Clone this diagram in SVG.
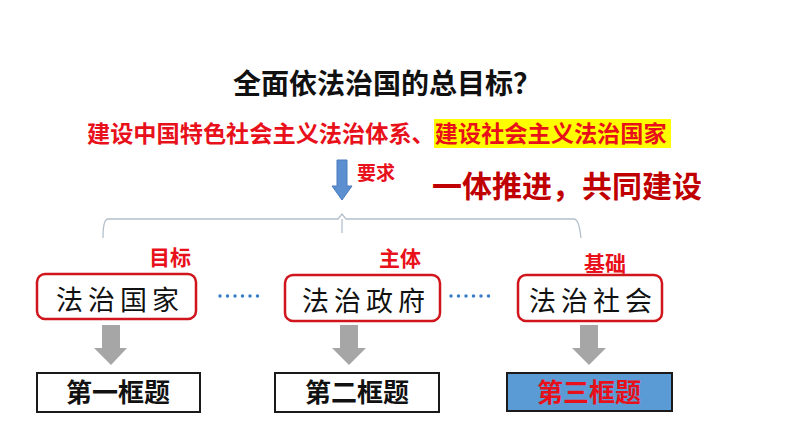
<svg xmlns="http://www.w3.org/2000/svg" width="794" height="447" viewBox="0 0 794 447">
<style>
.sans{font-family:"Noto Sans CJK SC","Liberation Sans",sans-serif;font-weight:bold}
.red{fill:#e8101a}
.lbl{font-size:21px}
.rbox{fill:#fff;stroke:#d0161c;stroke-width:2.5}
.box{fill:#fff;stroke:#1a1a1a;stroke-width:2}
.mid{font-family:"Noto Sans CJK SC",sans-serif;font-size:27px;fill:#111;letter-spacing:5px}
.btxt{font-size:26px}
.garrow{fill:#a6a6a6}
.dots{stroke:#3a7cc8;stroke-width:3.5;stroke-linecap:round;stroke-dasharray:0 7.5}
</style>
<rect width="794" height="447" fill="#fff"/>
<g id="title">
<text class="sans" x="387" y="94" font-size="28" text-anchor="middle" fill="#111">全面依法治国的总目标？</text>
</g>
<g id="goal">
<rect x="434" y="119" width="237" height="29" fill="#ffff00"/>
<text class="sans red" x="87" y="142" font-size="23.2">建设中国特色社会主义法治体系、<tspan>建设社会主义法治国家</tspan></text>
</g>
<g id="req-arrow">
<path d="M337,160 H347 V186 H352 L342,200 L332,186 H337 Z" fill="#5b8fd0" stroke="#4a7cc0" stroke-width="1"/>
<text class="sans red" x="357" y="180" font-size="19">要求</text>
</g>
<g id="slogan">
<text class="sans" x="432" y="197" font-size="30" fill="#c00000">一体推进，共同建设</text>
</g>
<g id="connectors" fill="none">
<path d="M103,238 Q103,219 108,219 H338 L342,214 L346,219 H574 Q579,219 581,238" stroke="#b3c0cc" stroke-width="1.3"/>
<path d="M342,219 V233" stroke="#b3c0cc" stroke-width="1.3"/>
<path class="dots" d="M220,296 H258"/>
<path class="dots" d="M451,296 H489"/>
<path class="garrow" d="M102,325 H120 V348 H127 L111,365 L94,348 H102 Z"/>
<path class="garrow" d="M340,325 H358 V348 H366 L349,365 L332,348 H340 Z"/>
<path class="garrow" d="M580,325 H598 V348 H606 L589,365 L572,348 H580 Z"/>
</g>
<g id="n1">
<text class="sans red lbl" x="170" y="265" text-anchor="middle">目标</text>
<rect class="rbox" x="37" y="274" width="159" height="45" rx="8"/>
<text class="mid" x="120" y="310" text-anchor="middle">法治国家</text>
</g>
<g id="n2">
<text class="sans red lbl" x="400" y="266" text-anchor="middle">主体</text>
<rect class="rbox" x="285" y="275" width="155" height="46" rx="8"/>
<text class="mid" x="366" y="311" text-anchor="middle">法治政府</text>
</g>
<g id="n3">
<text class="sans red lbl" x="605" y="271" text-anchor="middle">基础</text>
<rect class="rbox" x="518" y="275" width="144" height="46" rx="8"/>
<text class="mid" x="593" y="311" text-anchor="middle">法治社会</text>
</g>
<g id="b1">
<rect class="box" x="37" y="373" width="163" height="39"/>
<text class="sans btxt" x="118" y="402" text-anchor="middle" fill="#111">第一框题</text>
</g>
<g id="b2">
<rect class="box" x="275" y="373" width="164" height="39"/>
<text class="sans btxt" x="357" y="402" text-anchor="middle" fill="#111">第二框题</text>
</g>
<g id="b3">
<rect x="507" y="373" width="165" height="38" fill="#5b9bd5" stroke="#1a1a1a" stroke-width="2"/>
<text class="sans btxt red" x="589" y="402" text-anchor="middle">第三框题</text>
</g>
</svg>
